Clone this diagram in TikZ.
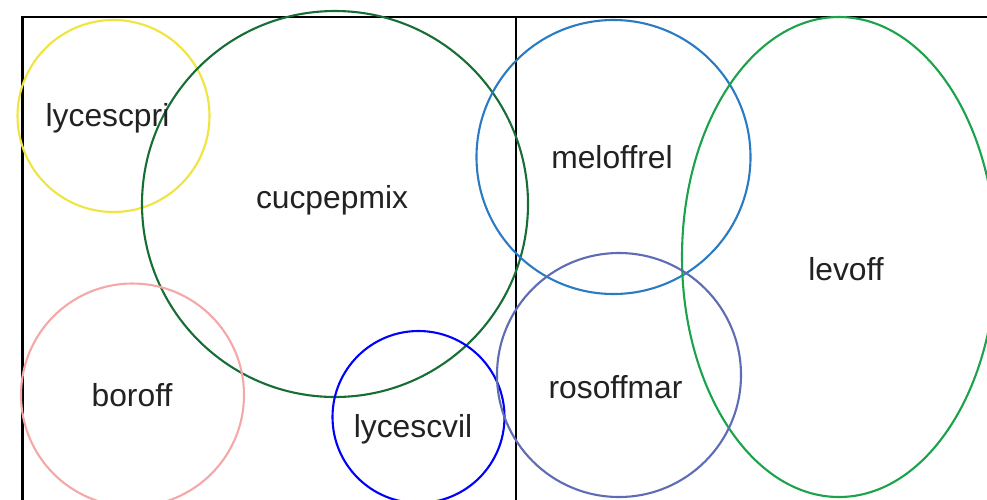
\documentclass[tikz,border=0pt]{standalone}
\usepackage{fontspec}
\setmainfont{Liberation Sans}
\definecolor{cyel}{RGB}{240,228,64}
\definecolor{cdkgreen}{RGB}{22,110,52}
\definecolor{csteel}{RGB}{43,123,196}
\definecolor{cgreen}{RGB}{26,163,74}
\definecolor{cpink}{RGB}{245,168,168}
\definecolor{cblue}{RGB}{0,0,255}
\definecolor{cslate}{RGB}{94,107,181}
\definecolor{ctext}{RGB}{34,34,34}
\tikzset{
  frame/.style={draw=black, line width=2.2pt},
  setline/.style={line width=2.1pt},
  lbl/.style={anchor=base, inner sep=0pt, text=ctext, font=\fontsize{31.8}{36}\selectfont}
}
\begin{document}
\begin{tikzpicture}[x=1pt,y=-1pt]
\useasboundingbox (0,0) rectangle (987,499);
\clip (0,0) rectangle (987,499);
\fill[white] (0,0) rectangle (987,499);
% frame
\coordinate (tl) at (22.5,17);
\coordinate (tr) at (990,17);
\coordinate (bl) at (22.5,502);
\coordinate (tm) at (516,17);
\coordinate (bm) at (516,502);
\draw[frame] (bl) -- (tl) -- (tr);
\draw[frame] (tm) -- (bm);
% sets
\draw[setline, cyel] (113.5,116) circle[radius=96];
\draw[setline, cdkgreen] (335,204) circle[radius=193];
\draw[setline, csteel] (613.5,157) circle[radius=137];
\draw[setline, cgreen] (839,257) ellipse[x radius=157, y radius=240];
\draw[setline, cpink] (132.5,395) circle[radius=111.5];
\draw[setline, cblue] (418.5,417) circle[radius=86];
\draw[setline, cslate] (619,375) circle[radius=122];
% labels
\node[lbl] (lycescpri) at (107.5,126.5) {lycescpri};
\node[lbl] (cucpepmix) at (332,208) {cucpepmix};
\node[lbl] (meloffrel) at (612,168) {meloffrel};
\node[lbl] (levoff) at (846,280) {levoff};
\node[lbl] (boroff) at (132,406.5) {boroff};
\node[lbl] (lycescvil) at (413,437) {lycescvil};
\node[lbl] (rosoffmar) at (615.5,398) {rosoffmar};
\end{tikzpicture}
\end{document}
